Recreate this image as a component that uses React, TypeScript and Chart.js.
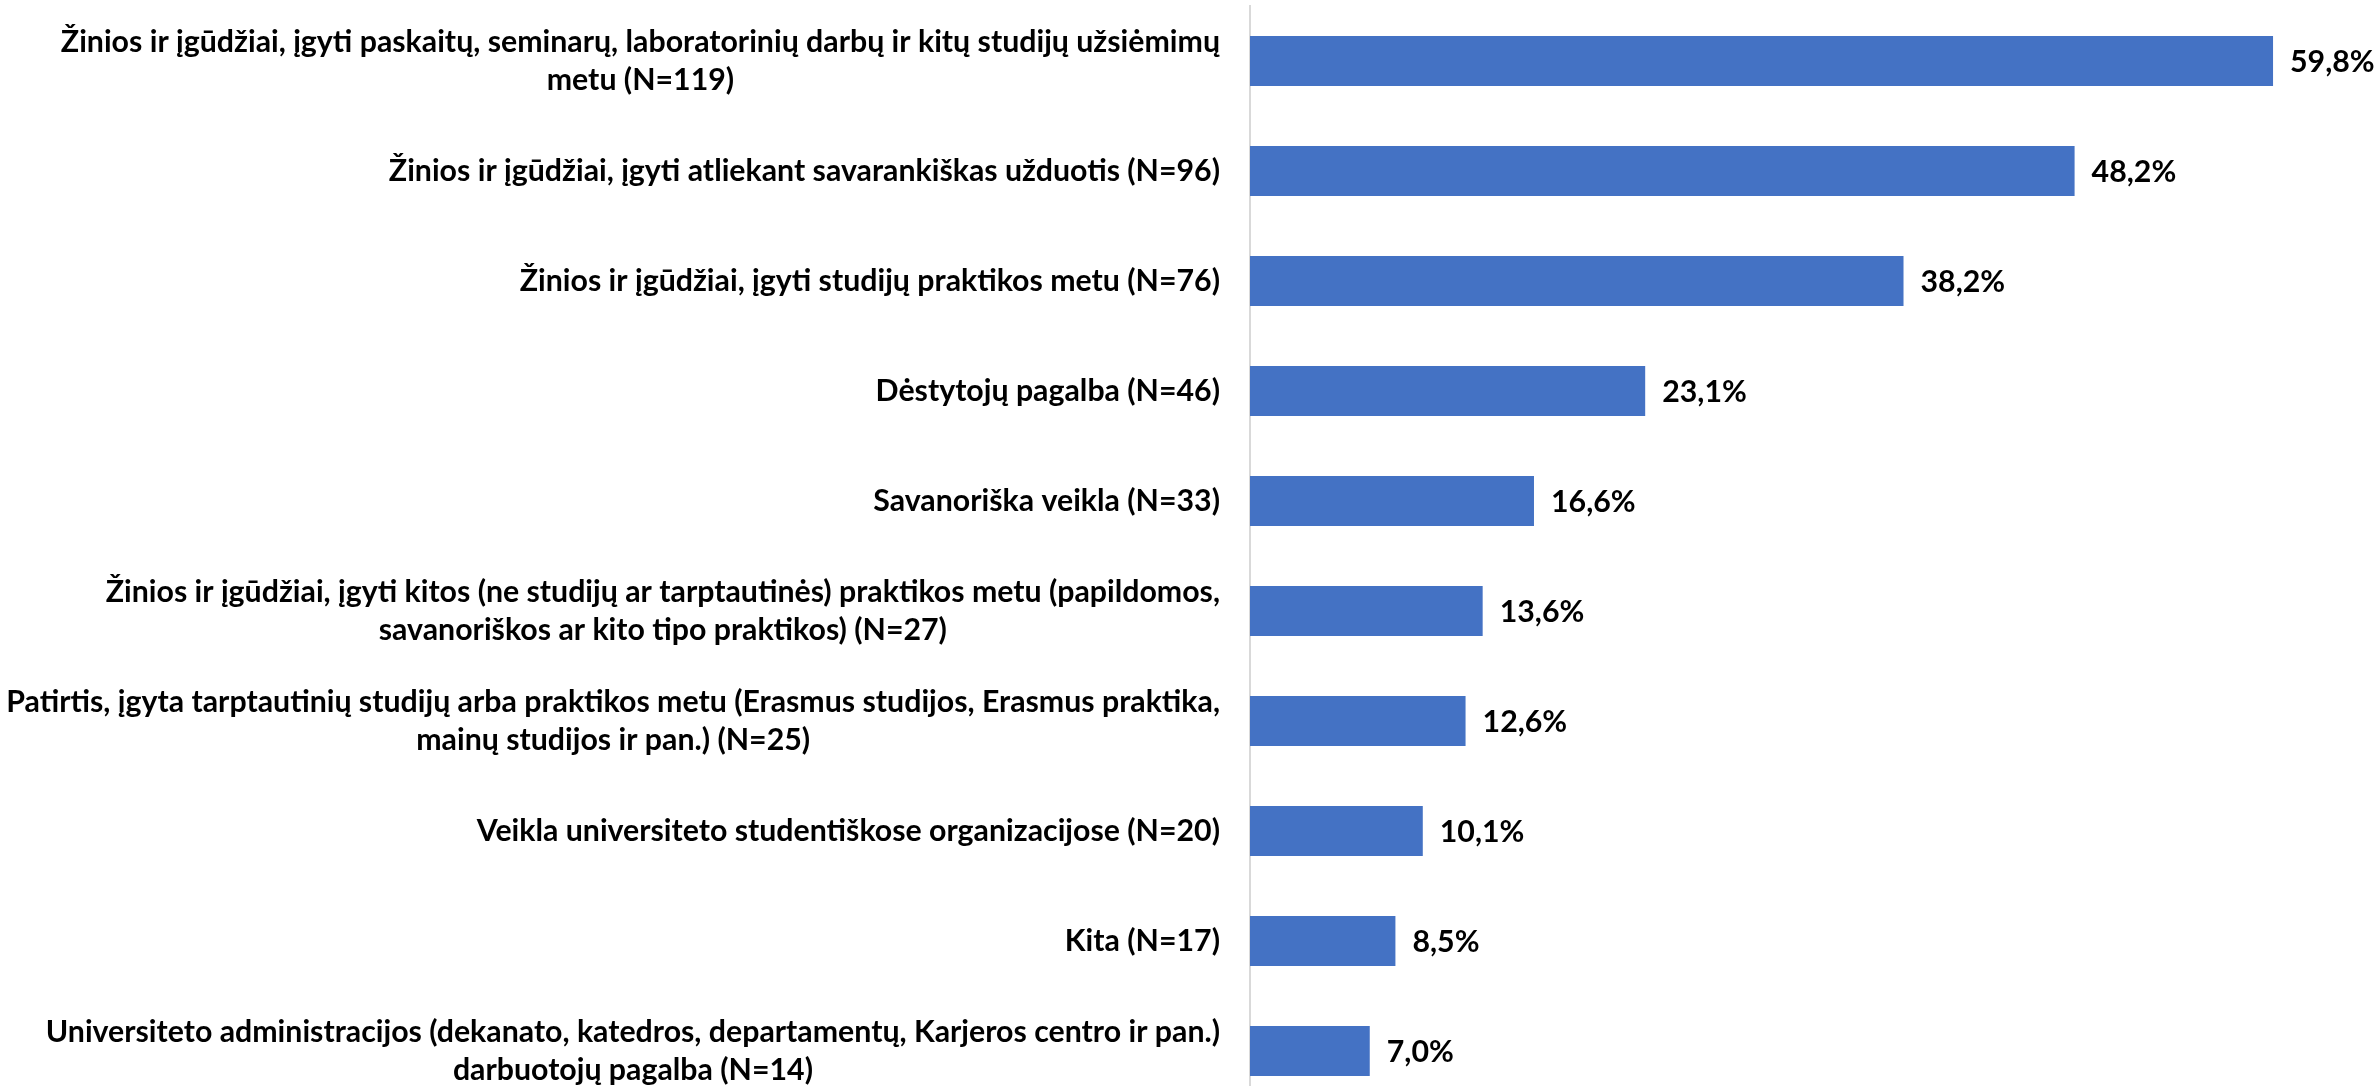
import React, { useEffect, useRef } from "react";
import { Chart, registerables } from "chart.js";

Chart.register(...registerables);

const categoryLines: string[][] = [
  ["Žinios ir įgūdžiai, įgyti paskaitų, seminarų, laboratorinių darbų ir kitų studijų užsiėmimų", "metu (N=119)"],
  ["Žinios ir įgūdžiai, įgyti atliekant savarankiškas užduotis (N=96)"],
  ["Žinios ir įgūdžiai, įgyti studijų praktikos metu (N=76)"],
  ["Dėstytojų pagalba (N=46)"],
  ["Savanoriška veikla (N=33)"],
  ["Žinios ir įgūdžiai, įgyti kitos (ne studijų ar tarptautinės) praktikos metu (papildomos,", "savanoriškos ar kito tipo praktikos) (N=27)"],
  ["Patirtis, įgyta tarptautinių studijų arba praktikos metu (Erasmus studijos, Erasmus praktika,", "mainų studijos ir pan.) (N=25)"],
  ["Veikla universiteto studentiškose organizacijose (N=20)"],
  ["Kita (N=17)"],
  ["Universiteto administracijos (dekanato, katedros, departamentų, Karjeros centro ir pan.)", "darbuotojų pagalba (N=14)"],
];

const percentValues: number[] = [59.8, 48.2, 38.2, 23.1, 16.6, 13.6, 12.6, 10.1, 8.5, 7.0];

const FONT = "bold 30.3px Lato, 'Open Sans', sans-serif";
const LABEL_RIGHT = 1220;
const LINE_H = 38.5;

const yLabelPlugin = {
  id: "yLabelPlugin",
  afterDraw(chart: any) {
    const ctx = chart.ctx;
    const yScale = chart.scales.y;
    ctx.save();
    ctx.font = FONT;
    ctx.fillStyle = "#000000";
    ctx.textAlign = "center";
    ctx.textBaseline = "middle";
    categoryLines.forEach((lines, i) => {
      const y = yScale.getPixelForValue(i);
      const w = Math.max(...lines.map((l) => ctx.measureText(l).width));
      const cx = LABEL_RIGHT - w / 2;
      lines.forEach((line, j) => {
        ctx.fillText(line, cx, y + (j - (lines.length - 1) / 2) * LINE_H);
      });
    });
    ctx.restore();
  },
};

const valueLabelPlugin = {
  id: "valueLabelPlugin",
  afterDatasetsDraw(chart: any) {
    const ctx = chart.ctx;
    const meta = chart.getDatasetMeta(0);
    ctx.save();
    ctx.font = FONT;
    ctx.fillStyle = "#000000";
    ctx.textAlign = "left";
    ctx.textBaseline = "middle";
    meta.data.forEach((bar: any, i: number) => {
      const txt = percentValues[i].toFixed(1).replace(".", ",") + "%";
      ctx.fillText(txt, bar.x + 17, bar.y + 1);
    });
    ctx.restore();
  },
};

export default function App() {
  const ref = useRef<HTMLCanvasElement>(null);
  useEffect(() => {
    if (!ref.current) return;
    const chart = new Chart(ref.current, {
      type: "bar",
      data: {
        labels: categoryLines.map((l) => l.join(" ")),
        datasets: [
          {
            data: percentValues,
            backgroundColor: "#4472C4",
            borderWidth: 0,
            categoryPercentage: 1,
            barPercentage: 50 / 110,
          },
        ],
      },
      options: {
        indexAxis: "y",
        responsive: false,
        maintainAspectRatio: false,
        animation: false,
        layout: { padding: { top: 6, right: 15, bottom: 0, left: 0 } },
        plugins: { legend: { display: false }, tooltip: { enabled: false } },
        scales: {
          x: { display: false, min: 0, max: 65 },
          y: {
            display: true,
            grid: { display: false },
            ticks: { display: false },
            border: { display: true, color: "#d9d9d9", width: 2 },
            afterFit: (s: any) => {
              s.width = 1250;
            },
          },
        },
      },
      plugins: [yLabelPlugin, valueLabelPlugin],
    });
    return () => chart.destroy();
  }, []);
  return (
    <div
      style={{
        position: "fixed",
        left: 0,
        top: 0,
        width: 2377,
        height: 1086,
        overflow: "hidden",
        background: "#ffffff",
      }}
    >
      <canvas ref={ref} width={2377} height={1106} style={{ display: "block" }} />
    </div>
  );
}
